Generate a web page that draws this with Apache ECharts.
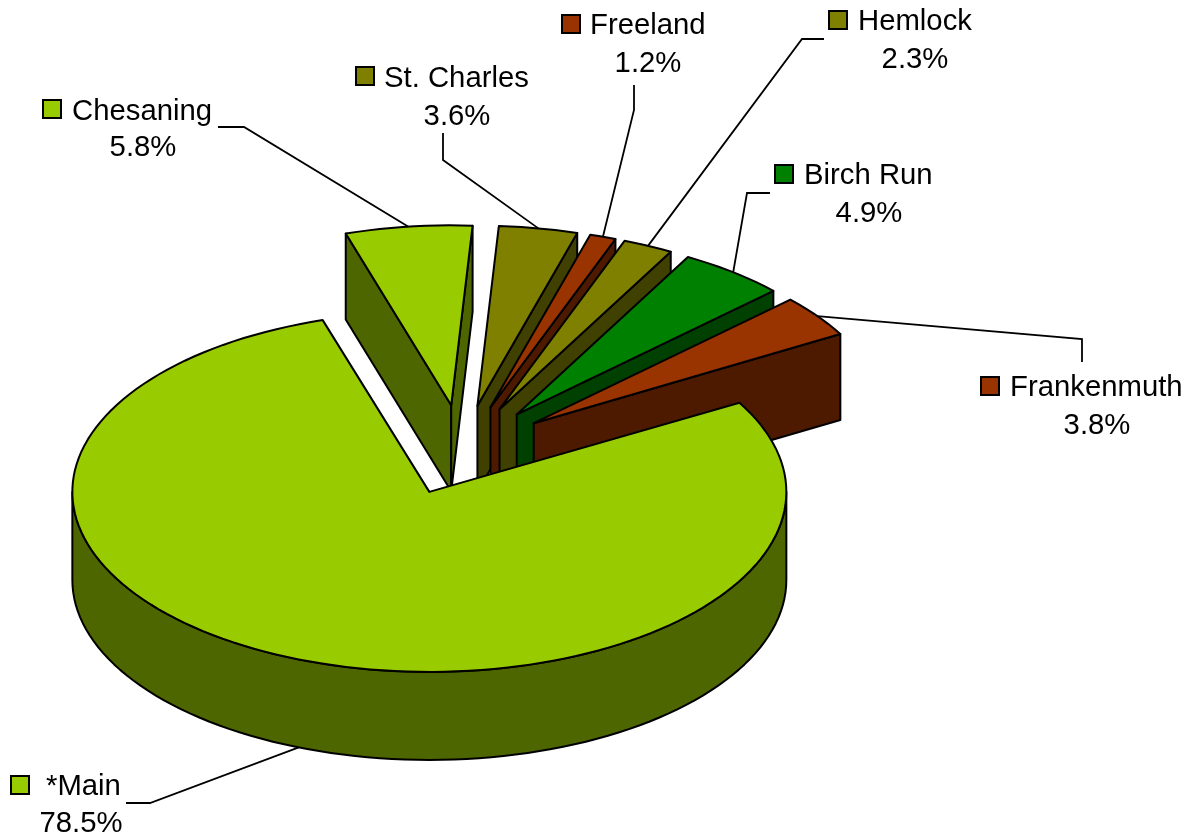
<!DOCTYPE html>
<html>
<head>
  <meta charset="utf-8">
  <title>Share by branch</title>
  <script src="https://cdn.jsdelivr.net/npm/echarts@6/dist/echarts.min.js"></script>
  <style>
    html, body { margin: 0; padding: 0; background: #fff; }
  </style>
</head>
<body>
<div id="chart" style="width: 1190px; height: 837px"></div>
<script type="text/javascript">
// data, clockwise from the first slice
var names = ['*Main', 'Chesaning', 'St. Charles', 'Freeland', 'Hemlock', 'Birch Run', 'Frankenmuth'];
var shares = [78.5, 5.8, 3.6, 1.2, 2.3, 4.9, 3.8];
var topColors = ['#99CC00', '#99CC00', '#808000', '#993300', '#808000', '#008000', '#993300'];
var sideColors = ['#4D6600', '#4D6600', '#404000', '#4D1A00', '#404000', '#004000', '#4D1A00'];

// pie shape, in pixels
var cx = 462, cy = 450;      // centre before the slices are pulled out
var rx = 357, ry = 180;
var rxFar = 353;             // the far slices come out a little narrower
var depthNear = 88, depthFar = 86;
var explode = 0.25;
var startAngle = -29.7;
var fontFamily = '"Liberation Sans", Arial, sans-serif';
var fontSize = 29.3;

// label layout: key corner, name x, percent centre x, text centres, leader elbow and end
var labelLayout = [
  { kx: 11,  ky: 776, nx: 46,   px: 81,   ny: 787, py: 824, elbow: [150, 803],  end: [126, 803] },
  { kx: 43,  ky: 100, nx: 72,   px: 143,  ny: 112, py: 148, elbow: [244, 127],  end: [218, 127] },
  { kx: 356, ky: 67,  nx: 384,  px: 457,  ny: 79,  py: 117, elbow: [443, 160],  end: [443, 133] },
  { kx: 562, ky: 15,  nx: 590,  px: 648,  ny: 26,  py: 64,  elbow: [634, 110],  end: [634, 85] },
  { kx: 829, ky: 11,  nx: 858,  px: 915,  ny: 22,  py: 60,  elbow: [802, 39],   end: [824, 39] },
  { kx: 775, ky: 165, nx: 804,  px: 869,  ny: 176, py: 214, elbow: [747, 193],  end: [770, 193] },
  { kx: 981, ky: 377, nx: 1010, px: 1097, ny: 388, py: 426, elbow: [1082, 339], end: [1082, 362] }
];

var total = shares.reduce(function (a, b) { return a + b; }, 0);
var slices = [];
var angle = startAngle;
shares.forEach(function (v, i) {
  var sweep = v / total * 360;
  var mid = angle + sweep / 2;
  var m = mid * Math.PI / 180;
  slices.push({
    from: angle,
    to: angle + sweep,
    mid: mid,
    rx: i === 0 ? rx : rxFar,
    depth: i === 0 ? depthNear : depthFar,
    tip: [cx + explode * rx * Math.cos(m), cy + explode * ry * Math.sin(m)]
  });
  angle += sweep;
});

function rimPoint(s, deg, drop) {
  var a = deg * Math.PI / 180;
  return [s.tip[0] + s.rx * Math.cos(a), s.tip[1] + ry * Math.sin(a) + (drop || 0)];
}

function arcPoints(s, from, to, drop) {
  var pts = [];
  var n = Math.max(2, Math.ceil((to - from) / 2));
  for (var k = 0; k <= n; k++) {
    pts.push(rimPoint(s, from + (to - from) * k / n, drop));
  }
  return pts;
}

function poly(points, fill) {
  return {
    type: 'polygon',
    shape: { points: points },
    style: { fill: fill, stroke: '#000', lineWidth: 2, lineJoin: 'round' }
  };
}

function radialFace(s, deg, fill) {
  var below = [s.tip[0], s.tip[1] + s.depth];
  return poly([s.tip, rimPoint(s, deg), rimPoint(s, deg, s.depth), below], fill);
}

// only the part of the rim on the near half of the ellipse shows
function rimFace(s, fill) {
  var parts = [];
  [[0, 180], [360, 540]].forEach(function (half) {
    var a = Math.max(s.from, half[0]);
    var b = Math.min(s.to, half[1]);
    if (b > a) {
      parts.push(poly(arcPoints(s, a, b, 0).concat(arcPoints(s, a, b, s.depth).reverse()), fill));
    }
  });
  return parts;
}

function renderSlice(params, api) {
  var i = api.value(0);
  var s = slices[i];
  var children = [];
  if (Math.cos(s.from * Math.PI / 180) < 0) children.push(radialFace(s, s.from, sideColors[i]));
  if (Math.cos(s.to * Math.PI / 180) > 0) children.push(radialFace(s, s.to, sideColors[i]));
  children = children.concat(rimFace(s, sideColors[i]));
  children.push(poly([s.tip].concat(arcPoints(s, s.from, s.to, 0)), topColors[i]));
  return { type: 'group', children: children };
}

function text(str, x, y, align) {
  return {
    type: 'text',
    style: {
      text: str, x: x, y: y, align: align, verticalAlign: 'middle',
      fontFamily: fontFamily, fontSize: fontSize, fill: '#000'
    }
  };
}

function renderLabel(params, api) {
  var i = api.value(0);
  var s = slices[i];
  var l = labelLayout[i];
  // leader starts at the middle of the slice's outer edge; the main slice's starts under its rim
  var start = rimPoint(s, s.mid, Math.sin(s.mid * Math.PI / 180) > 0 ? s.depth : 0);
  return {
    type: 'group',
    children: [
      {
        type: 'polyline',
        shape: { points: [start, l.elbow, l.end] },
        style: { fill: 'none', stroke: '#000', lineWidth: 1.8 }
      },
      {
        type: 'rect',
        shape: { x: l.kx, y: l.ky, width: 18, height: 18 },
        style: { fill: topColors[i], stroke: '#000', lineWidth: 2 }
      },
      text(names[i], l.nx, l.ny, 'left'),
      text(shares[i].toFixed(1) + '%', l.px, l.py, 'center')
    ]
  };
}

// far slices first, the main slice last so it sits over their walls
var drawOrder = names.map(function (n, i) { return i; }).slice(1).concat([0]);

var myChart = echarts.init(document.getElementById('chart'));
myChart.setOption({
  animation: false,
  backgroundColor: '#fff',
  series: [
    {
      type: 'custom',
      coordinateSystem: 'none',
      renderItem: renderSlice,
      silent: true,
      data: drawOrder.map(function (i) { return { name: names[i], value: [i, shares[i]] }; })
    },
    {
      type: 'custom',
      coordinateSystem: 'none',
      renderItem: renderLabel,
      silent: true,
      data: names.map(function (n, i) { return { name: n, value: [i, shares[i]] }; })
    }
  ]
});
</script>
</body>
</html>
